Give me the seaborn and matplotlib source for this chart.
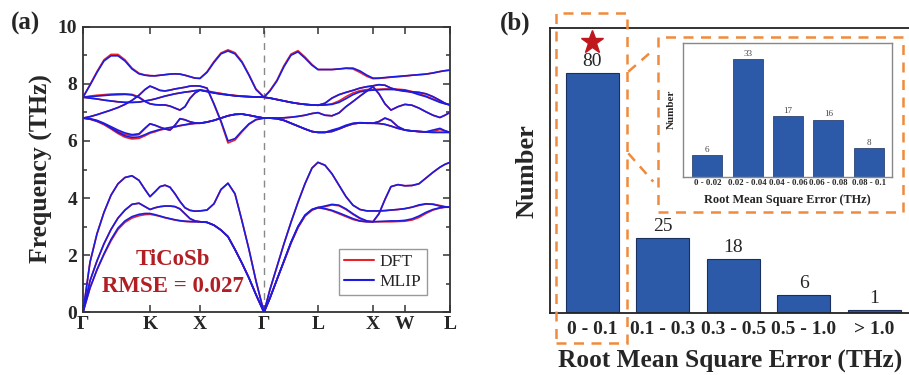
import pandas as pd
import matplotlib.pyplot as plt
import matplotlib.patches as mpatches
from matplotlib.lines import Line2D
import seaborn as sns

# ---- (a) phonon dispersion of TiCoSb, sampled along the path ----
kpath = [0, 7, 14, 21, 28, 35, 42, 49, 56, 62, 67,
         72, 77, 82, 87, 92, 97, 102, 107, 112, 117,
         124, 131, 138, 145, 152, 159, 166, 173, 181,
         187, 194, 201, 208, 215, 222, 229, 235,
         242, 249, 256, 263, 270, 277, 284, 290,
         296, 302, 308, 315, 322,
         329, 336, 343, 350, 357, 362, 367]
sym_pos = [0, 67, 117, 181, 235, 290, 322, 367]
sym_labels = ['Γ', 'K', 'X', 'Γ', 'L', 'X', 'W', 'L']

mlip_ac1 = [0.00, 0.85, 1.50, 2.05, 2.55, 2.95, 3.20, 3.35, 3.43, 3.46, 3.46,
            3.42, 3.37, 3.32, 3.28, 3.24, 3.21, 3.19, 3.18, 3.17, 3.17,
            3.15, 3.05, 2.88, 2.65, 2.20, 1.72, 1.20, 0.62, 0.00,
            0.50, 1.15, 1.80, 2.45, 3.00, 3.40, 3.60, 3.67,
            3.63, 3.57, 3.48, 3.38, 3.28, 3.20, 3.17, 3.17,
            3.18, 3.19, 3.20, 3.20, 3.22,
            3.27, 3.37, 3.50, 3.60, 3.66, 3.68, 3.68]
mlip_ac2 = [0.00, 1.10, 1.80, 2.40, 2.90, 3.30, 3.58, 3.78, 3.82, 3.70, 3.60,
            3.66, 3.70, 3.72, 3.72, 3.70, 3.62, 3.45, 3.28, 3.20, 3.17,
            3.15, 3.05, 2.88, 2.65, 2.20, 1.72, 1.20, 0.62, 0.00,
            0.50, 1.15, 1.80, 2.45, 3.00, 3.40, 3.60, 3.67,
            3.72, 3.78, 3.75, 3.62, 3.45, 3.30, 3.20, 3.17,
            3.45, 3.95, 4.40, 4.47, 4.43,
            4.44, 4.50, 4.70, 4.90, 5.08, 5.18, 5.25]
mlip_ac3 = [0.00, 1.75, 2.75, 3.50, 4.10, 4.50, 4.72, 4.78, 4.62, 4.30, 4.05,
            4.22, 4.40, 4.45, 4.38, 4.15, 3.88, 3.66, 3.57, 3.54, 3.55,
            3.58, 3.80, 4.30, 4.52, 4.15, 3.20, 2.20, 1.10, 0.00,
            0.80, 1.60, 2.40, 3.15, 3.85, 4.50, 5.05, 5.25,
            5.15, 4.85, 4.45, 4.05, 3.75, 3.60, 3.55, 3.55,
            3.55, 3.56, 3.58, 3.60, 3.63,
            3.68, 3.76, 3.80, 3.78, 3.72, 3.69, 3.68]
mlip_op1 = [7.53, 7.95, 8.40, 8.80, 8.98, 8.98, 8.80, 8.52, 8.35, 8.30, 8.28,
            8.28, 8.30, 8.32, 8.34, 8.35, 8.34, 8.30, 8.25, 8.20, 8.19,
            8.40, 8.75, 9.05, 9.15, 9.05, 8.75, 8.30, 7.80, 7.53,
            7.75, 8.10, 8.60, 9.00, 9.12, 8.90, 8.65, 8.50,
            8.50, 8.50, 8.52, 8.55, 8.55, 8.45, 8.30, 8.20,
            8.20, 8.22, 8.24, 8.26, 8.28,
            8.30, 8.32, 8.34, 8.38, 8.43, 8.46, 8.48]
mlip_op2 = [6.80, 6.85, 6.92, 7.00, 7.08, 7.17, 7.28, 7.42, 7.60, 7.80, 7.92,
            7.85, 7.77, 7.75, 7.78, 7.82, 7.85, 7.88, 7.92, 7.93, 7.92,
            7.85, 7.30, 6.70, 6.00, 6.08, 6.35, 6.60, 6.75, 6.80,
            6.80, 6.80, 6.81, 6.83, 6.86, 6.90, 6.96, 6.99,
            6.90, 6.88, 6.98, 7.20, 7.38, 7.57, 7.75, 7.90,
            7.65, 7.30, 7.08, 7.20, 7.28,
            7.25, 7.15, 7.02, 6.90, 6.82, 6.90, 7.00]
mlip_op3 = [7.53, 7.55, 7.57, 7.59, 7.61, 7.62, 7.63, 7.61, 7.52, 7.38, 7.30,
            7.27, 7.26, 7.26, 7.22, 7.15, 7.08, 7.20, 7.49, 7.68, 7.78,
            7.73, 7.68, 7.64, 7.61, 7.58, 7.56, 7.55, 7.54, 7.53,
            7.50, 7.45, 7.40, 7.35, 7.31, 7.28, 7.26, 7.25,
            7.32, 7.50, 7.62, 7.70, 7.77, 7.85, 7.90, 7.93,
            7.97, 7.95, 7.85, 7.78, 7.74,
            7.72, 7.70, 7.65, 7.55, 7.42, 7.32, 7.26]
mlip_op4 = [7.53, 7.50, 7.47, 7.43, 7.40, 7.37, 7.35, 7.35, 7.36, 7.40, 7.43,
            7.47, 7.52, 7.57, 7.61, 7.65, 7.68, 7.71, 7.73, 7.76, 7.78,
            7.73, 7.68, 7.64, 7.61, 7.58, 7.56, 7.55, 7.54, 7.53,
            7.50, 7.45, 7.40, 7.35, 7.31, 7.28, 7.26, 7.25,
            7.26, 7.28, 7.35, 7.48, 7.62, 7.72, 7.76, 7.78,
            7.79, 7.80, 7.80, 7.79, 7.77,
            7.70, 7.62, 7.55, 7.45, 7.35, 7.30, 7.26]
mlip_op5 = [6.80, 6.78, 6.72, 6.62, 6.50, 6.38, 6.28, 6.22, 6.25, 6.45, 6.60,
            6.55, 6.48, 6.42, 6.38, 6.55, 6.78, 6.74, 6.67, 6.63, 6.62,
            6.66, 6.72, 6.80, 6.88, 6.93, 6.94, 6.90, 6.85, 6.80,
            6.80, 6.78, 6.72, 6.62, 6.52, 6.42, 6.33, 6.30,
            6.30, 6.38, 6.45, 6.55, 6.62, 6.64, 6.63, 6.62,
            6.68, 6.80, 6.72, 6.50, 6.38,
            6.35, 6.33, 6.32, 6.38, 6.44, 6.36, 6.30]
mlip_op6 = [6.80, 6.77, 6.70, 6.60, 6.45, 6.30, 6.18, 6.12, 6.14, 6.22, 6.30,
            6.35, 6.40, 6.44, 6.47, 6.50, 6.54, 6.57, 6.60, 6.62, 6.62,
            6.66, 6.72, 6.80, 6.88, 6.93, 6.94, 6.90, 6.85, 6.80,
            6.80, 6.78, 6.72, 6.62, 6.52, 6.42, 6.33, 6.30,
            6.30, 6.33, 6.42, 6.52, 6.60, 6.63, 6.62, 6.62,
            6.61, 6.58, 6.52, 6.44, 6.38,
            6.35, 6.33, 6.31, 6.30, 6.30, 6.30, 6.30]

dft_ac1 = [0.00, 0.85, 1.48, 2.02, 2.50, 2.90, 3.15, 3.30, 3.38, 3.42, 3.43,
           3.40, 3.36, 3.31, 3.27, 3.23, 3.20, 3.18, 3.17, 3.17, 3.17,
           3.15, 3.05, 2.88, 2.65, 2.20, 1.72, 1.20, 0.62, 0.00,
           0.50, 1.15, 1.78, 2.42, 2.97, 3.37, 3.58, 3.66,
           3.62, 3.55, 3.45, 3.35, 3.25, 3.19, 3.17, 3.17,
           3.17, 3.17, 3.17, 3.18, 3.19,
           3.23, 3.32, 3.46, 3.58, 3.65, 3.68, 3.68]
dft_ac2 = [0.00, 1.10, 1.80, 2.40, 2.90, 3.30, 3.58, 3.78, 3.82, 3.70, 3.60,
           3.66, 3.70, 3.72, 3.72, 3.70, 3.62, 3.45, 3.28, 3.20, 3.17,
           3.15, 3.05, 2.88, 2.65, 2.20, 1.72, 1.20, 0.62, 0.00,
           0.50, 1.15, 1.78, 2.42, 2.97, 3.37, 3.58, 3.66,
           3.70, 3.76, 3.73, 3.60, 3.43, 3.28, 3.19, 3.17,
           3.45, 3.95, 4.40, 4.47, 4.43,
           4.44, 4.50, 4.70, 4.90, 5.08, 5.18, 5.25]
dft_ac3 = [0.00, 1.75, 2.75, 3.50, 4.10, 4.50, 4.72, 4.78, 4.62, 4.30, 4.05,
           4.22, 4.40, 4.45, 4.38, 4.15, 3.88, 3.66, 3.57, 3.54, 3.55,
           3.58, 3.80, 4.30, 4.52, 4.15, 3.20, 2.20, 1.10, 0.00,
           0.80, 1.60, 2.40, 3.15, 3.85, 4.50, 5.05, 5.25,
           5.15, 4.85, 4.45, 4.05, 3.75, 3.60, 3.55, 3.55,
           3.55, 3.56, 3.58, 3.60, 3.63,
           3.68, 3.74, 3.79, 3.79, 3.74, 3.70, 3.68]
dft_op1 = [7.53, 7.97, 8.43, 8.84, 9.03, 9.03, 8.84, 8.55, 8.37, 8.31, 8.29,
           8.28, 8.30, 8.32, 8.34, 8.35, 8.34, 8.30, 8.25, 8.20, 8.19,
           8.42, 8.78, 9.08, 9.19, 9.09, 8.78, 8.32, 7.82, 7.53,
           7.77, 8.13, 8.64, 9.04, 9.16, 8.94, 8.68, 8.50,
           8.50, 8.50, 8.52, 8.54, 8.52, 8.40, 8.26, 8.18,
           8.19, 8.21, 8.23, 8.25, 8.27,
           8.30, 8.32, 8.34, 8.38, 8.43, 8.46, 8.48]
dft_op2 = [6.80, 6.85, 6.92, 7.00, 7.08, 7.17, 7.28, 7.42, 7.60, 7.80, 7.92,
           7.85, 7.77, 7.75, 7.78, 7.82, 7.85, 7.88, 7.92, 7.93, 7.92,
           7.85, 7.28, 6.66, 5.93, 6.03, 6.32, 6.58, 6.74, 6.80,
           6.80, 6.80, 6.81, 6.83, 6.86, 6.90, 6.96, 6.99,
           6.90, 6.88, 6.98, 7.20, 7.38, 7.57, 7.75, 7.90,
           7.65, 7.30, 7.08, 7.20, 7.28,
           7.25, 7.15, 7.02, 6.90, 6.82, 6.90, 7.00]
dft_op3 = [7.53, 7.57, 7.60, 7.62, 7.64, 7.65, 7.65, 7.63, 7.54, 7.39, 7.30,
           7.27, 7.26, 7.26, 7.22, 7.15, 7.08, 7.20, 7.49, 7.68, 7.78,
           7.75, 7.70, 7.66, 7.62, 7.59, 7.57, 7.55, 7.54, 7.53,
           7.50, 7.45, 7.40, 7.35, 7.31, 7.28, 7.26, 7.25,
           7.32, 7.50, 7.62, 7.70, 7.77, 7.85, 7.90, 7.93,
           7.97, 7.95, 7.85, 7.78, 7.74,
           7.72, 7.70, 7.65, 7.55, 7.42, 7.32, 7.26]
dft_op4 = [7.53, 7.50, 7.47, 7.43, 7.40, 7.37, 7.35, 7.35, 7.36, 7.40, 7.43,
           7.47, 7.52, 7.57, 7.61, 7.65, 7.68, 7.71, 7.73, 7.76, 7.78,
           7.75, 7.70, 7.66, 7.62, 7.59, 7.57, 7.55, 7.54, 7.53,
           7.50, 7.45, 7.40, 7.35, 7.31, 7.28, 7.26, 7.25,
           7.26, 7.30, 7.40, 7.55, 7.68, 7.76, 7.80, 7.80,
           7.81, 7.82, 7.82, 7.81, 7.79,
           7.73, 7.65, 7.57, 7.47, 7.37, 7.31, 7.26]
dft_op5 = [6.80, 6.77, 6.70, 6.59, 6.46, 6.33, 6.23, 6.18, 6.22, 6.43, 6.60,
           6.55, 6.48, 6.42, 6.38, 6.55, 6.78, 6.74, 6.67, 6.63, 6.62,
           6.66, 6.72, 6.80, 6.88, 6.93, 6.94, 6.90, 6.85, 6.80,
           6.80, 6.78, 6.72, 6.62, 6.52, 6.42, 6.33, 6.30,
           6.30, 6.36, 6.42, 6.52, 6.60, 6.63, 6.63, 6.62,
           6.68, 6.80, 6.72, 6.50, 6.38,
           6.35, 6.33, 6.31, 6.33, 6.40, 6.35, 6.30]
dft_op6 = [6.80, 6.76, 6.68, 6.57, 6.42, 6.26, 6.13, 6.07, 6.09, 6.18, 6.27,
           6.32, 6.38, 6.42, 6.46, 6.49, 6.53, 6.56, 6.59, 6.61, 6.62,
           6.66, 6.72, 6.80, 6.88, 6.93, 6.94, 6.90, 6.85, 6.80,
           6.80, 6.78, 6.72, 6.62, 6.52, 6.42, 6.33, 6.30,
           6.30, 6.33, 6.42, 6.52, 6.60, 6.63, 6.62, 6.62,
           6.61, 6.58, 6.52, 6.44, 6.38,
           6.35, 6.33, 6.31, 6.30, 6.30, 6.30, 6.30]

# ---- (b) RMSE histogram ----
rmse_bins = ['0 - 0.1', '0.1 - 0.3', '0.3 - 0.5', '0.5 - 1.0', '> 1.0']
rmse_counts = [80, 25, 18, 6, 1]
fine_bins = ['0 - 0.02', '0.02 - 0.04', '0.04 - 0.06', '0.06 - 0.08', '0.08 - 0.1']
fine_counts = [6, 33, 17, 16, 8]

red = '#E8232B'
blue = '#1C1CE0'
bar_blue = '#2C5AA8'
orange = '#F08A3C'
dark_red = '#B11F24'

sns.set_style('ticks')
plt.rcParams['font.family'] = ['Liberation Serif', 'DejaVu Serif']

bands = {
    'DFT': [dft_ac1, dft_ac2, dft_ac3, dft_op1, dft_op2, dft_op3, dft_op4, dft_op5, dft_op6],
    'MLIP': [mlip_ac1, mlip_ac2, mlip_ac3, mlip_op1, mlip_op2, mlip_op3, mlip_op4, mlip_op5, mlip_op6],
}
frames = []
for src, blist in bands.items():
    for i, b in enumerate(blist):
        frames.append(pd.DataFrame({'k': kpath, 'freq': b, 'band': i, 'source': src}))
df = pd.concat(frames, ignore_index=True)

fig = plt.figure(figsize=(9.09, 3.75), dpi=100)

# ---------------- panel (a) ----------------
axa = fig.add_axes([0.0913, 0.1672, 0.4037, 0.7616])
sns.lineplot(data=df, x='k', y='freq', hue='source', units='band', estimator=None,
             sort=False, hue_order=['DFT', 'MLIP'], palette={'DFT': red, 'MLIP': blue},
             linewidth=1.2, legend=False, ax=axa)
axa.axvline(sym_pos[3], color='#888888', ls=(0, (5, 4)), lw=1.0, zorder=0)
axa.set_xlim(sym_pos[0], sym_pos[-1])
axa.set_ylim(0, 10)
axa.set_xticks(sym_pos)
axa.set_xticklabels(sym_labels, fontsize=14, fontweight='bold')
axa.set_yticks([0, 2, 4, 6, 8, 10])
axa.set_yticks([1, 3, 5, 7, 9], minor=True)
axa.set_yticklabels(['0', '2', '4', '6', '8', '10'], fontsize=14, fontweight='bold')
axa.tick_params(axis='both', which='both', direction='in', top=True, right=True,
                color='#333333', width=1.1)
axa.tick_params(axis='x', length=5, pad=3)
axa.tick_params(axis='y', which='major', length=5, pad=4)
axa.tick_params(axis='y', which='minor', length=3)
axa.set_xlabel('')
axa.set_ylabel('')
for sp in axa.spines.values():
    sp.set_color('#333333')
    sp.set_linewidth(1.3)

axa.text(89.7, 1.86, 'TiCoSb', color=dark_red, fontsize=16.5, fontweight='bold',
         ha='center', va='center')
axa.text(89.7, 0.9, 'RMSE = 0.027', color=dark_red, fontsize=16.5, fontweight='bold',
         ha='center', va='center')
handles = [Line2D([], [], color=red, lw=1.5), Line2D([], [], color=blue, lw=1.5)]
leg = axa.legend(handles, ['DFT', 'MLIP'], loc='lower right', bbox_to_anchor=(0.937, 0.06),
                 borderaxespad=0, fancybox=False, framealpha=1, edgecolor='#999999',
                 fontsize=12.5, handlelength=1.7, handletextpad=0.35, labelspacing=0.2,
                 borderpad=0.3)
leg.get_frame().set_linewidth(1.0)

fig.text(41.7 / 909, 1 - 169 / 375, 'Frequency (THz)', rotation=90, ha='center', va='center',
         fontsize=18.5, fontweight='bold')
fig.text(26 / 909, 1 - 23 / 375, '(a)', ha='center', va='center', fontsize=18, fontweight='bold')

# ---------------- panel (b) ----------------
axb = fig.add_axes([0.605, 0.1653, 0.3955, 0.761])
sns.barplot(x=rmse_bins, y=rmse_counts, color=bar_blue, saturation=1, width=0.755,
            edgecolor='#1B2F5E', linewidth=0.8, ax=axb)
axb.bar_label(axb.containers[0], fontsize=14, padding=2)
axb.plot(0, rmse_counts[0] + 10.3, marker='*', ms=17, color='#C0171E', mec='#C0171E')
axb.set_xlim(-0.6, 4.5)
axb.set_ylim(0, 95)
axb.set_yticks([])
axb.tick_params(axis='x', length=0, pad=6, labelsize=14)
for lab in axb.get_xticklabels():
    lab.set_fontweight('bold')
axb.spines['right'].set_visible(False)
for s in ['left', 'top', 'bottom']:
    axb.spines[s].set_color('#222222')
    axb.spines[s].set_linewidth(1.3)

fig.text(526.7 / 909, 1 - 170.8 / 375, 'Number', rotation=90, ha='center', va='center',
         fontsize=19, fontweight='bold')
fig.text(730 / 909, 1 - 361 / 375, 'Root Mean Square Error (THz)', ha='center', va='center',
         fontsize=18.3, fontweight='bold')
fig.text(515 / 909, 1 - 23 / 375, '(b)', ha='center', va='center', fontsize=18, fontweight='bold')

# inset with the finer split of the first bin
axi = fig.add_axes([0.751, 0.5288, 0.2306, 0.357])
sns.barplot(x=fine_bins, y=fine_counts, color=bar_blue, saturation=1, width=0.745,
            edgecolor='#1B2F5E', linewidth=0.5, ax=axi)
axi.bar_label(axi.containers[0], fontsize=6.5, padding=1, color='#444444')
axi.set_xlim(-0.61, 4.585)
axi.set_ylim(0, 37.6)
axi.set_yticks([])
axi.tick_params(axis='x', length=0, pad=2, labelsize=6.3)
for lab in axi.get_xticklabels():
    lab.set_fontweight('bold')
for sp in axi.spines.values():
    sp.set_color('#888888')
    sp.set_linewidth(1.0)
fig.text(787.8 / 909, 1 - 200 / 375, 'Root Mean Square Error (THz)', ha='center', va='center',
         fontsize=8.8, fontweight='bold')
fig.text(671.7 / 909, 1 - 109 / 375, 'Number', rotation=90, ha='center', va='center',
         fontsize=8, fontweight='bold')

# orange dashed highlight boxes and connectors
dash = (0, (4, 3))
fig.add_artist(mpatches.Rectangle((0.6113, 0.0853), 0.0781, 0.8808, transform=fig.transFigure,
                                  fill=False, ec=orange, lw=1.8, ls=dash, zorder=5))
fig.add_artist(mpatches.Rectangle((0.7235, 0.4347), 0.2702, 0.4675, transform=fig.transFigure,
                                  fill=False, ec=orange, lw=1.8, ls=dash, zorder=5))
fig.add_artist(Line2D([0.6912, 0.7187], [0.8088, 0.8667], transform=fig.transFigure,
                      color=orange, lw=1.8, ls=dash, zorder=5))
fig.add_artist(Line2D([0.6912, 0.7187], [0.5912, 0.5155], transform=fig.transFigure,
                      color=orange, lw=1.8, ls=dash, zorder=5))

fig.savefig('out.png', dpi=100)
